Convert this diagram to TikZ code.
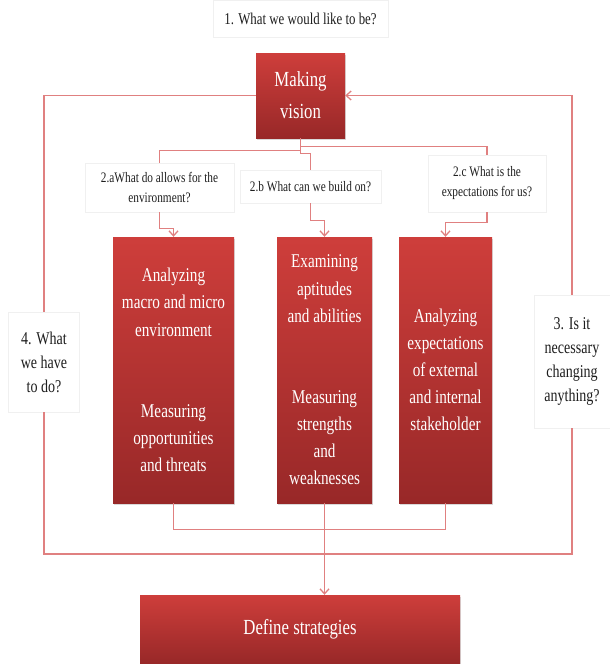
\documentclass[tikz,border=0pt]{standalone}
\usepackage{fontspec}
\setmainfont{Liberation Serif}[FakeStretch=0.78]
\usetikzlibrary{arrows.meta,shadows}
\definecolor{boxtop}{RGB}{206,62,59}
\definecolor{boxbot}{RGB}{152,40,40}
\definecolor{connc}{RGB}{224,128,128}
\definecolor{lblc}{RGB}{30,30,30}
\begin{document}
\begin{tikzpicture}[x=1pt,y=-1pt,
  redbox/.style={rectangle, top color=boxtop, bottom color=boxbot, text=white, align=center, inner sep=0pt,
    drop shadow={opacity=0.3,shadow xshift=1pt,shadow yshift=-1.5pt}},
  lblbox/.style={rectangle, fill=white, draw=black!6, align=center, inner sep=0pt, text=lblc},
  conn/.style={draw=connc, line width=1.3pt},
  arr/.style={conn, -{Straight Barb[length=5pt,width=9pt]}},
  bigtxt/.style={font=\fontsize{21.5}{32}\selectfont},
  boxtxt/.style={font=\fontsize{19.5}{27.1}\selectfont},
  smalltxt/.style={font=\fontsize{14.5}{20}\selectfont},
  sidetxt/.style={font=\fontsize{18}{24}\selectfont}
]
\useasboundingbox (0,0) rectangle (610,664);

% title
\node[lblbox, minimum width=175pt, minimum height=37pt, font=\fontsize{16.5}{20}\selectfont] (t) at (300.5,18.5) {1. What we would like to be?};

% red boxes
\node[redbox, bigtxt, minimum width=89pt, minimum height=85pt] (mv) at (300.5,95.5) {Making\\vision};
\node[redbox, boxtxt, minimum width=121pt, minimum height=266pt] (b1) at (173.5,370) {Analyzing\\macro and micro\\environment\\[54.2pt]Measuring\\opportunities\\and threats};
\node[redbox, boxtxt, minimum width=95pt, minimum height=266pt] (b2) at (324.5,370) {Examining\\aptitudes\\and abilities\\[54.2pt]Measuring\\strengths\\and\\weaknesses};
\node[redbox, boxtxt, minimum width=93pt, minimum height=266pt] (b3) at (445.5,370) {Analyzing\\expectations\\of external\\and internal\\stakeholder};
\node[redbox, bigtxt, minimum width=320pt, minimum height=68pt] (ds) at (300,629) {Define strategies};

% question labels
\node[lblbox, smalltxt, minimum width=149pt, minimum height=49pt] (a2) at (159.5,187.5) {2.aWhat do allows for the\\environment?};
\node[lblbox, smalltxt, minimum width=141pt, minimum height=33pt] (bl) at (310.5,186.5) {2.b What can we build on?};
\node[lblbox, smalltxt, minimum width=118pt, minimum height=57pt] (c2) at (487,183.5) {2.c What is the\\expectations for us?};
\node[lblbox, sidetxt, minimum width=71pt, minimum height=100pt] (q4) at (44,362) {4. What\\we have\\to do?};
\node[lblbox, sidetxt, minimum width=76pt, minimum height=133pt] (q3) at (572,361.5) {3. Is it\\necessary\\changing\\anything?};

\coordinate (lb) at (44,554);
\coordinate (rb) at (572,554);

% outer loop
\draw[conn] (mv.west) -| (q4.north);
\draw[conn] (q4.south) -- (lb) -- (rb) -- (q3.south);
\draw[arr] (q3.north) |- (mv.east);

% branches from vision
\draw[conn] (mv.south) -- ++(0,8) -| (c2.north);
\draw[conn] (mv.south) -- ++(0,12) -| (a2.north);
\draw[conn] (mv.south) -- ++(0,15) -| (bl.north);

% labels to boxes
\draw[arr] (a2.south) -- ++(0,16) -| (b1.north);
\draw[arr] (bl.south) -- ++(0,17) -| (b2.north);
\draw[arr] (c2.south) -- ++(0,10) -| (b3.north);

% boxes to strategies
\draw[conn] (b1.south) -- ++(0,26) -| (b3.south);
\draw[arr] (b2.south) -- (b2.south |- ds.north);
\end{tikzpicture}
\end{document}
